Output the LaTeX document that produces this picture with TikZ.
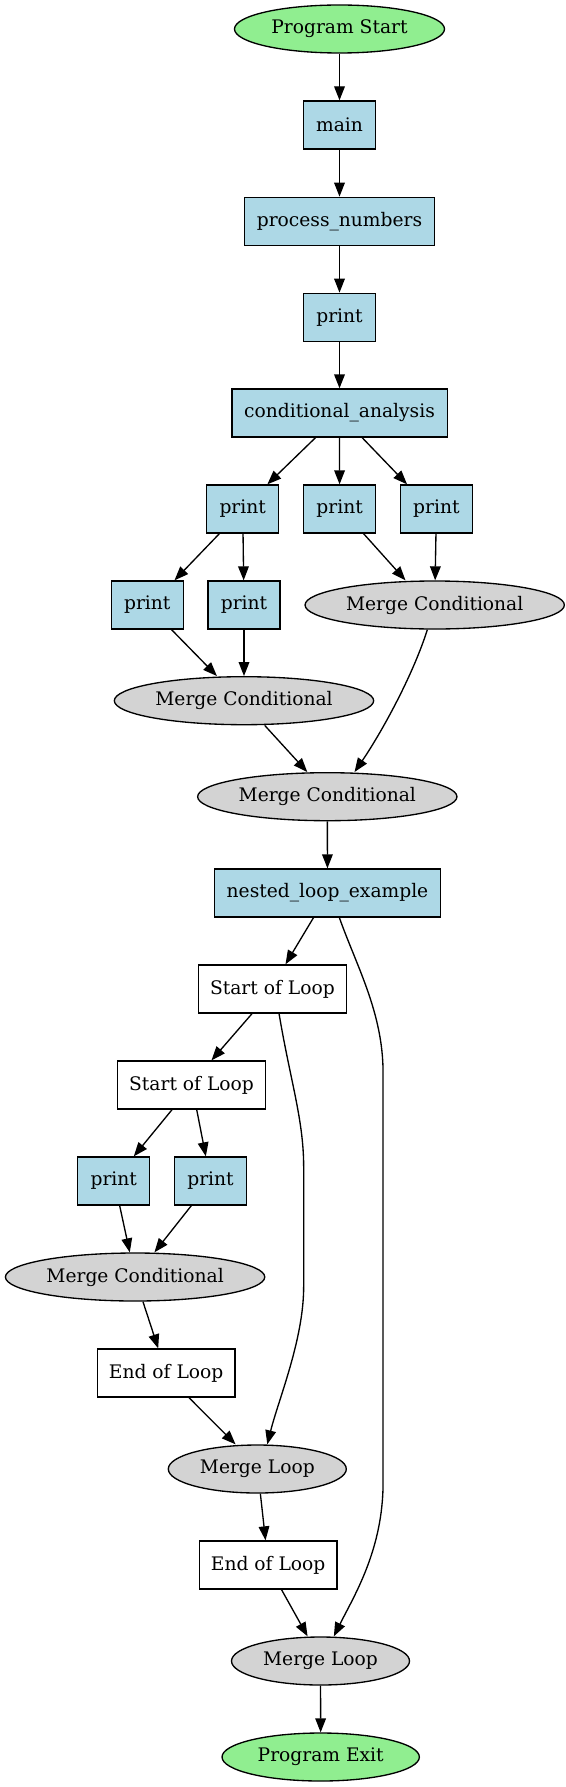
\documentclass[tikz,border=0pt]{standalone}
\usepackage{fontspec}
\setmainfont{DejaVu Serif}
\usepackage{tikz}
\usetikzlibrary{arrows.meta}
\usetikzlibrary{shapes.geometric}
\usetikzlibrary{positioning}
\definecolor{cf-func}{HTML}{ADD8E6}
\definecolor{cf-merge}{HTML}{D3D3D3}
\definecolor{cf-term}{HTML}{90EE90}

\begin{document}
\begin{tikzpicture}[
    x=0.75pt, y=-0.75pt,
    >={Triangle[length=10.5pt, width=8pt]},
    func/.style={draw=black, fill=cf-func, line width=1pt, inner sep=0pt, minimum width=54pt, minimum height=36pt, font=\fontsize{14}{17}\selectfont},
    loopbox/.style={draw=black, fill=white, line width=1pt, inner sep=0pt, minimum height=36pt, font=\fontsize{14}{17}\selectfont},
    merge/.style={ellipse, draw=black, fill=cf-merge, line width=1pt, inner sep=0pt, minimum width=194.5pt, minimum height=36pt, font=\fontsize{14}{17}\selectfont},
    terminal/.style={ellipse, draw=black, fill=cf-term, line width=1pt, inner sep=0pt, minimum height=36pt, font=\fontsize{14}{17}\selectfont},
    conn/.style={->, line width=1pt, draw=black}
]
\useasboundingbox (0, 0) rectangle (566, 1787);

% ── Início e cadeia principal ─────────────────────────────────
\node[terminal, minimum width=157.5pt] (start) at (339.5, 29) {Program Start};
\node[func] (main) at (339.5, 125) {main};
\node[func, minimum width=142.5pt] (procnum) at (339.5, 221.3) {process\_numbers};
\node[func] (print1) at (339.5, 317.3) {print};
\node[func, minimum width=161.5pt] (cond) at (339.5, 413) {conditional\_analysis};

\draw[conn] (start) -- (main);
\draw[conn] (main) -- (procnum);
\draw[conn] (procnum) -- (print1);
\draw[conn] (print1) -- (cond);

% ── Ramos do condicional ──────────────────────────────────────
\node[func] (pl) at (242.7, 509) {print};
\node[func] (pm) at (339.6, 509) {print};
\node[func] (pr) at (436.4, 509) {print};
\node[func] (pll) at (147.3, 605) {print};
\node[func] (plr) at (244, 605) {print};
\node[merge] (mcr) at (434.7, 605) {Merge Conditional};
\node[merge] (mcmid) at (244, 700.7) {Merge Conditional};
\node[merge] (mclow) at (327.3, 796.7) {Merge Conditional};

\draw[conn] ([xshift=-18pt]cond.south) -- ([xshift=18.5pt]pl.north);
\draw[conn] (cond) -- (pm);
\draw[conn] ([xshift=17pt]cond.south) -- ([xshift=-22pt]pr.north);
\draw[conn] ([xshift=-17.5pt]pl.south) -- ([xshift=20.4pt]pll.north);
\draw[conn] (pl) -- (plr);
\draw[conn] ([xshift=18pt]pm.south) -- ([xshift=-21.9pt]mcr.north);
\draw[conn] (pr) -- (mcr);
\draw[conn] ([xshift=18.2pt]pll.south) -- ([xshift=-20.3pt]mcmid.north);
\draw[conn] (plr) -- (mcmid);
\draw[conn] ([xshift=-5.5pt]mcr.south) .. controls +(-16, 50) and +(24, -35) .. ([xshift=20.4pt]mclow.north);
\draw[conn] ([xshift=15.5pt]mcmid.south) -- ([xshift=-15pt]mclow.north);

% ── Laços aninhados ───────────────────────────────────────────
\node[func, minimum width=169.5pt] (nested) at (327.5, 893) {nested\_loop\_example};
\node[loopbox, minimum width=111pt] (sol1) at (272.4, 989) {Start of Loop};
\node[loopbox, minimum width=111pt] (sol2) at (191.5, 1085) {Start of Loop};
\node[func] (pa) at (113.8, 1181) {print};
\node[func] (pb) at (210.5, 1181) {print};
\node[merge] (mcb) at (135.1, 1277) {Merge Conditional};
\node[loopbox, minimum width=103pt] (eol1) at (166.2, 1373) {End of Loop};
\node[merge, minimum width=133.5pt] (ml1) at (257.3, 1469) {Merge Loop};
\node[loopbox, minimum width=103pt] (eol2) at (268.2, 1565) {End of Loop};
\node[merge, minimum width=133.5pt] (ml2) at (320.5, 1661) {Merge Loop};
\node[terminal, minimum width=148pt] (exit) at (320.7, 1757) {Program Exit};

\draw[conn] (mclow) -- (nested);
\draw[conn] ([xshift=-10.5pt]nested.south) -- ([xshift=9.8pt]sol1.north);
\draw[conn] ([xshift=8.9pt]nested.south) .. controls +(17, 48) and +(0, -60) .. ++(43.7, 155)
    -- ++(0, 410) .. controls +(0, 67) and +(20, -40) .. ([xshift=10pt]ml2.north);
\draw[conn] ([xshift=-15.3pt]sol1.south) -- ([xshift=15pt]sol2.north);
\draw[conn] ([xshift=5pt]sol1.south) .. controls +(11, 66) and +(0, -47) .. ++(24.6, 153)
    -- ++(0, 120) .. controls +(0, 53) and +(11.2, -45) .. ([xshift=7.5pt]ml1.north);
\draw[conn] ([xshift=-14.6pt]sol2.south) -- ([xshift=15pt]pa.north);
\draw[conn] ([xshift=3.9pt]sol2.south) -- ([xshift=-3.5pt]pb.north);
\draw[conn] ([xshift=4.4pt]pa.south) -- ([xshift=-4pt]mcb.north);
\draw[conn] ([xshift=-14.4pt]pb.south) -- ([xshift=14.5pt]mcb.north);
\draw[conn] ([xshift=5.9pt]mcb.south) -- ([xshift=-6pt]eol1.north);
\draw[conn] ([xshift=17.1pt]eol1.south) -- ([xshift=-16.3pt]ml1.north);
\draw[conn] ([xshift=2.3pt]ml1.south) -- ([xshift=-2pt]eol2.north);
\draw[conn] ([xshift=10pt]eol2.south) -- ([xshift=-9.7pt]ml2.north);
\draw[conn] (ml2) -- (exit);

\end{tikzpicture}
\end{document}
